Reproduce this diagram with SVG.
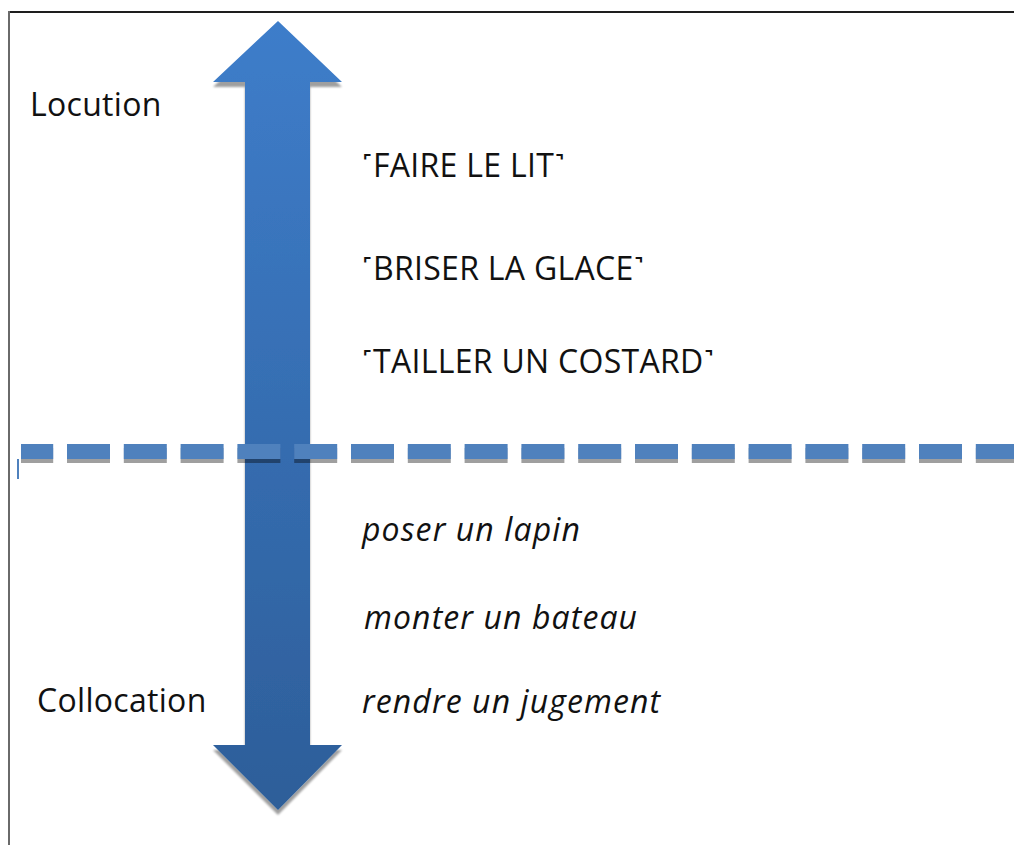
<svg xmlns="http://www.w3.org/2000/svg" width="1014" height="845" viewBox="0 0 1014 845">
<style>
.lbl{font-family:"Open Sans","Liberation Sans",sans-serif;font-size:32px;fill:#111;letter-spacing:0.3px}
.it{font-style:italic;letter-spacing:1.1px}
</style>
<defs>
<linearGradient id="ag" x1="0" y1="0" x2="0" y2="1">
<stop offset="0" stop-color="#3e7dca"/>
<stop offset="1" stop-color="#2d5e99"/>
</linearGradient>
<filter id="sh" x="-20%" y="-5%" width="140%" height="115%">
<feGaussianBlur in="SourceAlpha" stdDeviation="1"/>
<feOffset dx="0" dy="5" result="o"/>
<feComponentTransfer><feFuncA type="linear" slope="0.38"/></feComponentTransfer>
<feMerge><feMergeNode/><feMergeNode in="SourceGraphic"/></feMerge>
</filter>
<filter id="dsh" filterUnits="userSpaceOnUse" x="0" y="430" width="1014" height="50">
<feOffset in="SourceAlpha" dx="0" dy="4"/>
<feComponentTransfer><feFuncA type="linear" slope="0.38"/></feComponentTransfer>
<feMerge><feMergeNode/><feMergeNode in="SourceGraphic"/></feMerge>
</filter>
</defs>
<rect width="1014" height="845" fill="#fff"/>
<g id="frame">
<line x1="8" y1="12" x2="1014" y2="12" stroke="#1e1e1e" stroke-width="2"/>
<line x1="9" y1="11" x2="9" y2="845" stroke="#6a6a6a" stroke-width="2"/>
</g>
<g id="arrow">
<path d="M278,21 L342,82 L310,82 L310,745 L342,745 L278,810 L213,745 L245,745 L245,82 L213,82 Z" fill="url(#ag)" filter="url(#sh)"/>
</g>
<g id="connectors">
<line x1="21" y1="451.5" x2="1014" y2="451.5" stroke="#4f81bd" stroke-width="15" stroke-dasharray="43 13.8" stroke-dashoffset="10.8" filter="url(#dsh)"/>
<rect x="17" y="459" width="2" height="20" fill="#4f81bd"/>
</g>
<g id="label-locution"><text class="lbl" x="30" y="116">Locution</text></g>
<g id="label-collocation"><text class="lbl" x="37" y="712">Collocation</text></g>
<g id="idiom-1"><text class="lbl" x="362" y="177">˹FAIRE LE LIT˺</text></g>
<g id="idiom-2"><text class="lbl" x="362" y="280">˹BRISER LA GLACE˺</text></g>
<g id="idiom-3"><text class="lbl" x="362" y="373">˹TAILLER UN COSTARD˺</text></g>
<g id="colloc-1"><text class="lbl it" x="362" y="541">poser un lapin</text></g>
<g id="colloc-2"><text class="lbl it" x="364" y="629">monter un bateau</text></g>
<g id="colloc-3"><text class="lbl it" x="362" y="713">rendre un jugement</text></g>
</svg>
